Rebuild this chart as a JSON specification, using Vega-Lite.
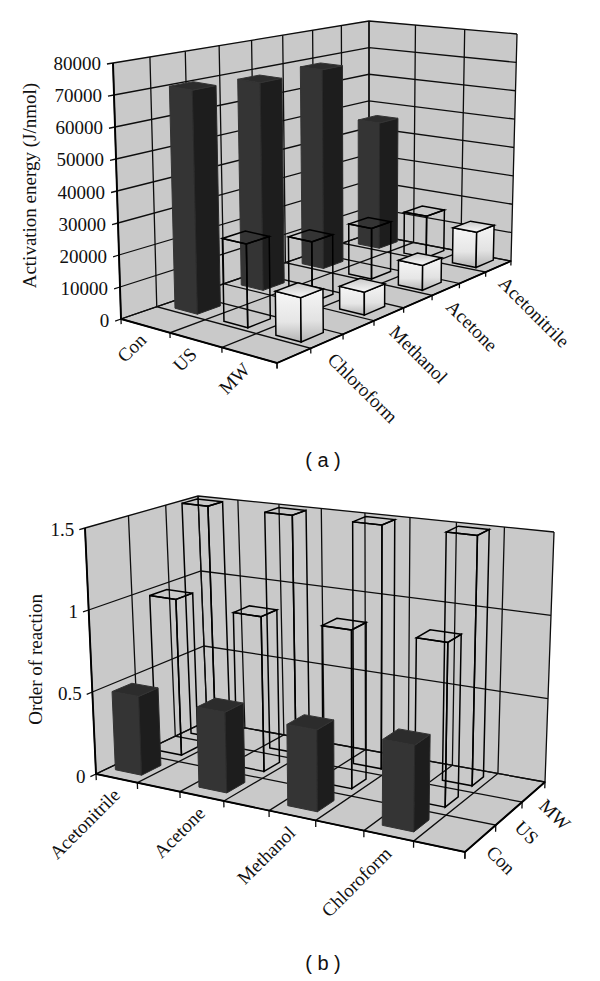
{
"$schema":"https://vega.github.io/schema/vega-lite/v6.json",
"padding":0,
"spacing":8,
"background":"white",
"config":{"view":{"stroke":null},"text":{"font":"Liberation Serif","fontSize":19,"color":"#111"}},
"vconcat":[
{
"width":600,"height":445,
"title":{"text":"( a )","orient":"bottom","font":"Liberation Sans","fontSize":20,"fontWeight":"normal","dx":23,"offset":6,"anchor":"middle","color":"#111"},
"data":{"values":[
{"kind":"wall","name":"left"},{"kind":"wall","name":"back"},{"kind":"wall","name":"floor"},
{"kind":"frame"},
{"kind":"wtick","value":0},{"kind":"wtick","value":10000},{"kind":"wtick","value":20000},{"kind":"wtick","value":30000},{"kind":"wtick","value":40000},{"kind":"wtick","value":50000},{"kind":"wtick","value":60000},{"kind":"wtick","value":70000},{"kind":"wtick","value":80000},
{"kind":"ptick","n":0,"of":3},{"kind":"ptick","n":1,"of":3},{"kind":"ptick","n":2,"of":3},{"kind":"ptick","n":3,"of":3},
{"kind":"qtick","n":0,"of":8},{"kind":"qtick","n":1,"of":8},{"kind":"qtick","n":2,"of":8},{"kind":"qtick","n":3,"of":8},{"kind":"qtick","n":4,"of":8},{"kind":"qtick","n":5,"of":8},{"kind":"qtick","n":6,"of":8},{"kind":"qtick","n":7,"of":8},{"kind":"qtick","n":8,"of":8},
{"kind":"plabel","method":"Con"},{"kind":"plabel","method":"US"},{"kind":"plabel","method":"MW"},
{"kind":"qlabel","solvent":"Chloroform"},{"kind":"qlabel","solvent":"Methanol"},{"kind":"qlabel","solvent":"Acetone"},{"kind":"qlabel","solvent":"Acetonitrile"},
{"kind":"ytitle","label":"Activation energy (J/nmol)"},
{"kind":"bar","solvent":"Acetonitrile","method":"Con","value":45500},
{"kind":"bar","solvent":"Acetone","method":"Con","value":69100},
{"kind":"bar","solvent":"Methanol","method":"Con","value":69000},
{"kind":"bar","solvent":"Chloroform","method":"Con","value":71000},
{"kind":"bar","solvent":"Acetonitrile","method":"US","value":14700},
{"kind":"bar","solvent":"Acetone","method":"US","value":17200},
{"kind":"bar","solvent":"Methanol","method":"US","value":19700},
{"kind":"bar","solvent":"Chloroform","method":"US","value":26000},
{"kind":"bar","solvent":"Acetonitrile","method":"MW","value":12300},
{"kind":"bar","solvent":"Acetone","method":"MW","value":8300},
{"kind":"bar","solvent":"Methanol","method":"MW","value":7300},
{"kind":"bar","solvent":"Chloroform","method":"MW","value":13500}
]},
"transform":[
{"calculate":"isValid(datum.method)?(indexof(['Con','US','MW'],datum.method)+0.5)/3:(datum.kind=='ptick'?datum.n/datum.of:0)","as":"pc"},
{"calculate":"isValid(datum.solvent)?(indexof(['Chloroform','Methanol','Acetone','Acetonitrile'],datum.solvent)+0.75)/4:(datum.kind=='qtick'?datum.n/datum.of:0)","as":"qc"},
{"calculate":"datum.pc-0.155/2","as":"P0"},{"calculate":"datum.pc+0.155/2","as":"P1"},
{"calculate":"datum.qc-0.085/2","as":"Q0"},{"calculate":"datum.qc+0.085/2","as":"Q1"},
{"calculate":"isValid(datum.value)?datum.value/80000:0","as":"W"},
{"calculate":"datum.kind=='bar'?[{f:'wide',s:0,p:datum.P0,q:datum.Q0,w:0},{f:'wide',s:1,p:datum.P1,q:datum.Q0,w:0},{f:'wide',s:2,p:datum.P1,q:datum.Q0,w:datum.W},{f:'wide',s:3,p:datum.P0,q:datum.Q0,w:datum.W},{f:'dark',s:0,p:datum.P1,q:datum.Q0,w:0},{f:'dark',s:1,p:datum.P1,q:datum.Q1,w:0},{f:'dark',s:2,p:datum.P1,q:datum.Q1,w:datum.W},{f:'dark',s:3,p:datum.P1,q:datum.Q0,w:datum.W},{f:'top',s:0,p:datum.P0,q:datum.Q0,w:datum.W},{f:'top',s:1,p:datum.P1,q:datum.Q0,w:datum.W},{f:'top',s:2,p:datum.P1,q:datum.Q1,w:datum.W},{f:'top',s:3,p:datum.P0,q:datum.Q1,w:datum.W}]:datum.kind=='wall'?(datum.name=='left'?[{f:'wall',s:0,p:0,q:0,w:0},{f:'wall',s:1,p:0,q:1,w:0},{f:'wall',s:2,p:0,q:1,w:1},{f:'wall',s:3,p:0,q:0,w:1}]:datum.name=='back'?[{f:'wall',s:0,p:0,q:1,w:0},{f:'wall',s:1,p:1,q:1,w:0},{f:'wall',s:2,p:1,q:1,w:1},{f:'wall',s:3,p:0,q:1,w:1}]:[{f:'wall',s:0,p:0,q:0,w:0},{f:'wall',s:1,p:1,q:0,w:0},{f:'wall',s:2,p:1,q:1,w:0},{f:'wall',s:3,p:0,q:1,w:0}]):datum.kind=='frame'?[{f:'frame',s:0,p:0,q:0,w:1},{f:'frame',s:1,p:0,q:0,w:0},{f:'frame',s:2,p:1,q:0,w:0},{f:'frame',s:3,p:1,q:1,w:0}]:datum.kind=='wtick'?[{f:'grid',s:0,p:0,q:-0.02,w:datum.W},{f:'grid',s:1,p:0,q:0,w:datum.W},{f:'grid',s:2,p:0,q:1,w:datum.W},{f:'grid',s:3,p:1,q:1,w:datum.W},{f:'wlabel',s:0,p:0,q:-0.02,w:datum.W}]:datum.kind=='ptick'?[{f:'grid',s:0,p:datum.pc,q:0,w:-0.02},{f:'grid',s:1,p:datum.pc,q:0,w:0},{f:'grid',s:2,p:datum.pc,q:1,w:0},{f:'grid',s:3,p:datum.pc,q:1,w:1}]:datum.kind=='qtick'?[{f:'grid',s:0,p:0,q:datum.qc,w:1},{f:'grid',s:1,p:0,q:datum.qc,w:0},{f:'grid',s:2,p:1,q:datum.qc,w:0},{f:'grid',s:3,p:1,q:datum.qc,w:-0.02}]:datum.kind=='plabel'?[{f:'plabel',s:0,p:datum.pc,q:0,w:-0.035}]:datum.kind=='qlabel'?[{f:'qlabel',s:0,p:1,q:datum.qc,w:-0.045}]:[{f:'ytitle',s:0,p:0,q:-0.275,w:0.6}]","as":"corners"},
{"flatten":["corners"],"as":["c"]},
{"calculate":"datum.c.f","as":"f"},{"calculate":"datum.c.s","as":"s"},{"calculate":"datum.c.w","as":"cw"},
{"calculate":"0.915*datum.c.p/(1-0.085*datum.c.p)","as":"pp"},
{"calculate":"1.18*datum.c.q/(1+0.18*datum.c.q)","as":"qq"},
{"calculate":"(1-datum.cw)*((1-datum.pp)*(1-datum.qq)*121+datum.pp*(1-datum.qq)*277+(1-datum.pp)*datum.qq*369+datum.pp*datum.qq*511)+datum.cw*((1-datum.pp)*(1-datum.qq)*113+datum.pp*(1-datum.qq)*273+(1-datum.pp)*datum.qq*369+datum.pp*datum.qq*517)","as":"px"},
{"calculate":"(1-datum.cw)*((1-datum.pp)*(1-datum.qq)*319+datum.pp*(1-datum.qq)*363+(1-datum.pp)*datum.qq*234+datum.pp*datum.qq*261)+datum.cw*((1-datum.pp)*(1-datum.qq)*63+datum.pp*(1-datum.qq)*91+(1-datum.pp)*datum.qq*21+datum.pp*datum.qq*34)","as":"py"},
{"calculate":"datum.kind+'|'+datum.n+'|'+datum.name+'|'+datum.value+'|'+datum.solvent+'|'+datum.method+'|'+datum.f","as":"id"}
],
"encoding":{
"x":{"field":"px","type":"quantitative","scale":{"domain":[0,600],"nice":false,"zero":false},"axis":null},
"y":{"field":"py","type":"quantitative","scale":{"domain":[0,445],"nice":false,"zero":false,"reverse":true},"axis":null},
"detail":{"field":"id"},
"order":{"field":"s","type":"quantitative"}
},
"layer":[
{"transform":[{"filter":"datum.f=='wall'"}],"mark":{"type":"line","interpolate":"linear-closed","fill":"#c9c9c9","stroke":"#c9c9c9","strokeWidth":0.5}},
{"transform":[{"filter":"datum.f=='grid'"}],"mark":{"type":"line","stroke":"#0d0d0d","strokeWidth":1.3}},
{"transform":[{"filter":"datum.f=='frame'"}],"mark":{"type":"line","stroke":"#000","strokeWidth":1.9}},
{"transform":[{"filter":"datum.method=='Con'&&datum.f=='wide'"}],"mark":{"type":"line","interpolate":"linear-closed","fill":"#343434","stroke":"#343434","strokeWidth":1}},
{"transform":[{"filter":"datum.method=='Con'&&datum.f=='dark'"}],"mark":{"type":"line","interpolate":"linear-closed","fill":"#1d1d1d","stroke":"#2a2a2a","strokeWidth":1}},
{"transform":[{"filter":"datum.method=='Con'&&datum.f=='top'"}],"mark":{"type":"line","interpolate":"linear-closed","fill":"#2c2c2c","stroke":"#343434","strokeWidth":1}},
{"transform":[{"filter":"datum.method=='US'&&datum.kind=='bar'"}],"mark":{"type":"line","interpolate":"linear-closed","stroke":"#000","strokeWidth":1.5}},
{"transform":[{"filter":"datum.method=='MW'&&datum.f=='wide'"}],"mark":{"type":"line","interpolate":"linear-closed","stroke":"#000","strokeWidth":1.5,"fill":{"gradient":"linear","x1":0,"y1":0,"x2":0,"y2":1,"stops":[{"offset":0,"color":"#f6f6f6"},{"offset":0.6,"color":"#e6e6e6"},{"offset":1,"color":"#b4b4b4"}]}}},
{"transform":[{"filter":"datum.method=='MW'&&datum.f=='dark'"}],"mark":{"type":"line","interpolate":"linear-closed","stroke":"#000","strokeWidth":1.5,"fill":{"gradient":"linear","x1":0,"y1":0,"x2":0,"y2":1,"stops":[{"offset":0,"color":"#f6f6f6"},{"offset":0.6,"color":"#e2e2e2"},{"offset":1,"color":"#b4b4b4"}]}}},
{"transform":[{"filter":"datum.method=='MW'&&datum.f=='top'"}],"mark":{"type":"line","interpolate":"linear-closed","stroke":"#000","strokeWidth":1.5,"fill":{"gradient":"linear","x1":0,"y1":0,"x2":0,"y2":1,"stops":[{"offset":0,"color":"#c8c8c8"},{"offset":1,"color":"#f8f8f8"}]}}},
{"transform":[{"filter":"datum.f=='wlabel'"}],"mark":{"type":"text","align":"right","baseline":"middle","dx":-6},"encoding":{"text":{"field":"value","type":"nominal"}}},
{"transform":[{"filter":"datum.f=='plabel'"}],"mark":{"type":"text","align":"right","baseline":"middle","angle":315,"dx":-3},"encoding":{"text":{"field":"method","type":"nominal"}}},
{"transform":[{"filter":"datum.f=='qlabel'"}],"mark":{"type":"text","align":"left","baseline":"middle","angle":45,"dx":5},"encoding":{"text":{"field":"solvent","type":"nominal"}}},
{"transform":[{"filter":"datum.f=='ytitle'"}],"mark":{"type":"text","align":"center","baseline":"middle","angle":270},"encoding":{"text":{"field":"label","type":"nominal"}}}
]
},
{
"width":600,"height":475,
"title":{"text":"( b )","orient":"bottom","font":"Liberation Sans","fontSize":20,"fontWeight":"normal","dx":23,"offset":0,"anchor":"middle","color":"#111"},
"data":{"values":[
{"kind":"wall","name":"left"},{"kind":"wall","name":"back"},{"kind":"wall","name":"floor"},
{"kind":"frame"},
{"kind":"wtick","value":0},{"kind":"wtick","value":0.5},{"kind":"wtick","value":1},{"kind":"wtick","value":1.5},
{"kind":"ptick","n":0,"of":8},{"kind":"ptick","n":1,"of":8},{"kind":"ptick","n":2,"of":8},{"kind":"ptick","n":3,"of":8},{"kind":"ptick","n":4,"of":8},{"kind":"ptick","n":5,"of":8},{"kind":"ptick","n":6,"of":8},{"kind":"ptick","n":7,"of":8},{"kind":"ptick","n":8,"of":8},
{"kind":"qtick","n":0,"of":3},{"kind":"qtick","n":1,"of":3},{"kind":"qtick","n":2,"of":3},{"kind":"qtick","n":3,"of":3},
{"kind":"plabel","solvent":"Acetonitrile"},{"kind":"plabel","solvent":"Acetone"},{"kind":"plabel","solvent":"Methanol"},{"kind":"plabel","solvent":"Chloroform"},
{"kind":"qlabel","method":"Con"},{"kind":"qlabel","method":"US"},{"kind":"qlabel","method":"MW"},
{"kind":"ytitle","label":"Order of reaction"},
{"kind":"bar","solvent":"Acetonitrile","method":"MW","value":1.5},
{"kind":"bar","solvent":"Acetone","method":"MW","value":1.5},
{"kind":"bar","solvent":"Methanol","method":"MW","value":1.5},
{"kind":"bar","solvent":"Chloroform","method":"MW","value":1.5},
{"kind":"bar","solvent":"Acetonitrile","method":"US","value":0.98},
{"kind":"bar","solvent":"Acetone","method":"US","value":0.95},
{"kind":"bar","solvent":"Methanol","method":"US","value":0.95},
{"kind":"bar","solvent":"Chloroform","method":"US","value":0.96},
{"kind":"bar","solvent":"Acetonitrile","method":"Con","value":0.48},
{"kind":"bar","solvent":"Acetone","method":"Con","value":0.48},
{"kind":"bar","solvent":"Methanol","method":"Con","value":0.475},
{"kind":"bar","solvent":"Chloroform","method":"Con","value":0.49}
]},
"transform":[
{"calculate":"isValid(datum.solvent)?(indexof(['Acetonitrile','Acetone','Methanol','Chloroform'],datum.solvent)+0.25)/4:(datum.kind=='ptick'?datum.n/datum.of:0)","as":"pc"},
{"calculate":"isValid(datum.method)?(indexof(['Con','US','MW'],datum.method)+0.5)/3:(datum.kind=='qtick'?datum.n/datum.of:0)","as":"qc"},
{"calculate":"datum.pc-0.08/2","as":"P0"},{"calculate":"datum.pc+0.08/2","as":"P1"},
{"calculate":"datum.qc-0.155/2","as":"Q0"},{"calculate":"datum.qc+0.155/2","as":"Q1"},
{"calculate":"isValid(datum.value)?datum.value/1.5:0","as":"W"},
{"calculate":"datum.kind=='bar'?[{f:'wide',s:0,p:datum.P0,q:datum.Q0,w:0},{f:'wide',s:1,p:datum.P1,q:datum.Q0,w:0},{f:'wide',s:2,p:datum.P1,q:datum.Q0,w:datum.W},{f:'wide',s:3,p:datum.P0,q:datum.Q0,w:datum.W},{f:'dark',s:0,p:datum.P1,q:datum.Q0,w:0},{f:'dark',s:1,p:datum.P1,q:datum.Q1,w:0},{f:'dark',s:2,p:datum.P1,q:datum.Q1,w:datum.W},{f:'dark',s:3,p:datum.P1,q:datum.Q0,w:datum.W},{f:'top',s:0,p:datum.P0,q:datum.Q0,w:datum.W},{f:'top',s:1,p:datum.P1,q:datum.Q0,w:datum.W},{f:'top',s:2,p:datum.P1,q:datum.Q1,w:datum.W},{f:'top',s:3,p:datum.P0,q:datum.Q1,w:datum.W}]:datum.kind=='wall'?(datum.name=='left'?[{f:'wall',s:0,p:0,q:0,w:0},{f:'wall',s:1,p:0,q:1,w:0},{f:'wall',s:2,p:0,q:1,w:1},{f:'wall',s:3,p:0,q:0,w:1}]:datum.name=='back'?[{f:'wall',s:0,p:0,q:1,w:0},{f:'wall',s:1,p:1,q:1,w:0},{f:'wall',s:2,p:1,q:1,w:1},{f:'wall',s:3,p:0,q:1,w:1}]:[{f:'wall',s:0,p:0,q:0,w:0},{f:'wall',s:1,p:1,q:0,w:0},{f:'wall',s:2,p:1,q:1,w:0},{f:'wall',s:3,p:0,q:1,w:0}]):datum.kind=='frame'?[{f:'frame',s:0,p:0,q:0,w:1},{f:'frame',s:1,p:0,q:0,w:0},{f:'frame',s:2,p:1,q:0,w:0},{f:'frame',s:3,p:1,q:1,w:0}]:datum.kind=='wtick'?[{f:'grid',s:0,p:0,q:-0.04,w:datum.W},{f:'grid',s:1,p:0,q:0,w:datum.W},{f:'grid',s:2,p:0,q:1,w:datum.W},{f:'grid',s:3,p:1,q:1,w:datum.W},{f:'wlabel',s:0,p:0,q:-0.04,w:datum.W}]:datum.kind=='ptick'?[{f:'grid',s:0,p:datum.pc,q:0,w:-0.025},{f:'grid',s:1,p:datum.pc,q:0,w:0},{f:'grid',s:2,p:datum.pc,q:1,w:0},{f:'grid',s:3,p:datum.pc,q:1,w:1}]:datum.kind=='qtick'?[{f:'grid',s:0,p:0,q:datum.qc,w:1},{f:'grid',s:1,p:0,q:datum.qc,w:0},{f:'grid',s:2,p:1,q:datum.qc,w:0},{f:'grid',s:3,p:1,q:datum.qc,w:-0.025}]:datum.kind=='plabel'?[{f:'plabel',s:0,p:datum.pc,q:0,w:-0.055}]:datum.kind=='qlabel'?[{f:'qlabel',s:0,p:1,q:datum.qc,w:-0.01}]:[{f:'ytitle',s:0,p:0,q:-0.35,w:0.547}]","as":"corners"},
{"flatten":["corners"],"as":["c"]},
{"calculate":"datum.c.f","as":"f"},{"calculate":"datum.c.s","as":"s"},{"calculate":"datum.c.w","as":"cw"},
{"calculate":"0.883*datum.c.p/(1-0.117*datum.c.p)","as":"pp"},
{"calculate":"1.25*datum.c.q/(1+0.25*datum.c.q)","as":"qq"},
{"calculate":"(1-datum.cw)*((1-datum.pp)*(1-datum.qq)*96+datum.pp*(1-datum.qq)*465+(1-datum.pp)*datum.qq*207+datum.pp*datum.qq*545)+datum.cw*((1-datum.pp)*(1-datum.qq)*85+datum.pp*(1-datum.qq)*470+(1-datum.pp)*datum.qq*198+datum.pp*datum.qq*554)","as":"px"},
{"calculate":"(1-datum.cw)*((1-datum.pp)*(1-datum.qq)*775+datum.pp*(1-datum.qq)*853+(1-datum.pp)*datum.qq*722+datum.pp*datum.qq*783)+datum.cw*((1-datum.pp)*(1-datum.qq)*529+datum.pp*(1-datum.qq)*581+(1-datum.pp)*datum.qq*497+datum.pp*datum.qq*533)","as":"py"},
{"calculate":"datum.kind+'|'+datum.n+'|'+datum.name+'|'+datum.value+'|'+datum.solvent+'|'+datum.method+'|'+datum.f","as":"id"}
],
"encoding":{
"x":{"field":"px","type":"quantitative","scale":{"domain":[0,600],"nice":false,"zero":false},"axis":null},
"y":{"field":"py","type":"quantitative","scale":{"domain":[480,955],"nice":false,"zero":false,"reverse":true},"axis":null},
"detail":{"field":"id"},
"order":{"field":"s","type":"quantitative"}
},
"layer":[
{"transform":[{"filter":"datum.f=='wall'"}],"mark":{"type":"line","interpolate":"linear-closed","fill":"#c9c9c9","stroke":"#c9c9c9","strokeWidth":0.5}},
{"transform":[{"filter":"datum.f=='grid'"}],"mark":{"type":"line","stroke":"#0d0d0d","strokeWidth":1.3}},
{"transform":[{"filter":"datum.f=='frame'"}],"mark":{"type":"line","stroke":"#000","strokeWidth":1.9}},
{"transform":[{"filter":"datum.method=='MW'&&datum.kind=='bar'"}],"mark":{"type":"line","interpolate":"linear-closed","stroke":"#000","strokeWidth":1.5}},
{"transform":[{"filter":"datum.method=='US'&&datum.kind=='bar'"}],"mark":{"type":"line","interpolate":"linear-closed","stroke":"#000","strokeWidth":1.5}},
{"transform":[{"filter":"datum.method=='Con'&&datum.f=='wide'"}],"mark":{"type":"line","interpolate":"linear-closed","fill":"#343434","stroke":"#343434","strokeWidth":1}},
{"transform":[{"filter":"datum.method=='Con'&&datum.f=='dark'"}],"mark":{"type":"line","interpolate":"linear-closed","fill":"#1d1d1d","stroke":"#2a2a2a","strokeWidth":1}},
{"transform":[{"filter":"datum.method=='Con'&&datum.f=='top'"}],"mark":{"type":"line","interpolate":"linear-closed","fill":"#2c2c2c","stroke":"#343434","strokeWidth":1}},
{"transform":[{"filter":"datum.f=='wlabel'"}],"mark":{"type":"text","align":"right","baseline":"middle","dx":-5},"encoding":{"text":{"field":"value","type":"nominal"}}},
{"transform":[{"filter":"datum.f=='plabel'"}],"mark":{"type":"text","align":"right","baseline":"middle","angle":315},"encoding":{"text":{"field":"solvent","type":"nominal"}}},
{"transform":[{"filter":"datum.f=='qlabel'"}],"mark":{"type":"text","align":"left","baseline":"middle","angle":45,"dx":12},"encoding":{"text":{"field":"method","type":"nominal"}}},
{"transform":[{"filter":"datum.f=='ytitle'"}],"mark":{"type":"text","align":"center","baseline":"middle","angle":270},"encoding":{"text":{"field":"label","type":"nominal"}}}
]
}
]
}
